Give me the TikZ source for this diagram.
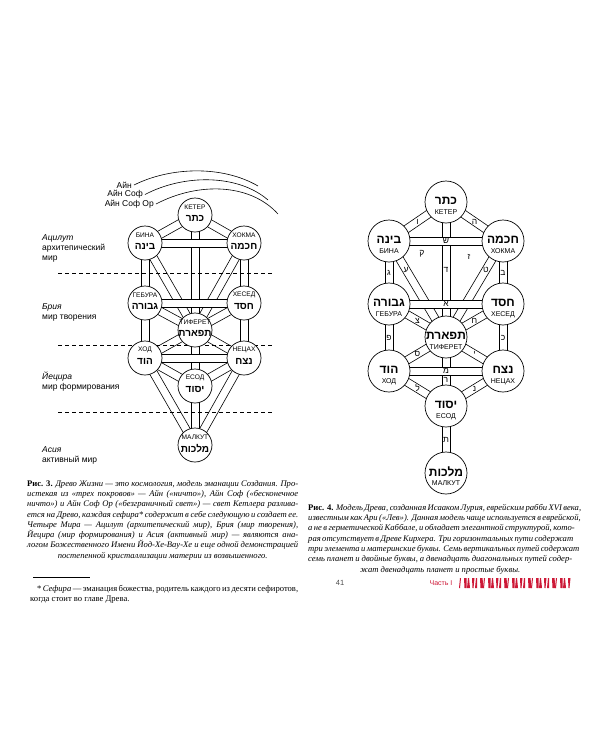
\documentclass[tikz,border=0pt]{standalone}
\usepackage{fontspec}
\setmainfont{Liberation Serif}
\setsansfont{Liberation Sans}
\newfontfamily\hebfont[Script=Hebrew]{Liberation Sans}
\TeXXeTstate=1
\usetikzlibrary{backgrounds,calc}
\definecolor{partred}{RGB}{205,25,55}
\newcommand\heb[1]{{\hebfont\beginR#1\endR}}
\newlength\capw
\newcommand\capline[1]{\hbox to\capw{#1}}
% one path of the tree: a white band with two rules
\newcommand\chan[2]{%
  \fill[white] ($(#1.center)!3.7pt!90:(#2.center)$) -- ($(#2.center)!3.7pt!-90:(#1.center)$)
    -- ($(#2.center)!3.7pt!90:(#1.center)$) -- ($(#1.center)!3.7pt!-90:(#2.center)$) -- cycle;
  \draw[chanedge] ($(#1.center)!4pt!90:(#2.center)$) -- ($(#2.center)!4pt!-90:(#1.center)$);
  \draw[chanedge] ($(#1.center)!4pt!-90:(#2.center)$) -- ($(#2.center)!4pt!90:(#1.center)$);}
\begin{document}
\begin{tikzpicture}[x=1pt,y=-1pt,every node/.style={font=\sffamily},
  chanedge/.style={line width=.6pt},
  sefL/.style={circle,draw,line width=.7pt,fill=white,minimum size=34pt,inner sep=0pt},
  sefR/.style={circle,draw,line width=.7pt,fill=white,minimum size=42pt,inner sep=0pt},
  ruL/.style={font=\sffamily\fontsize{6.6}{7}\selectfont,inner sep=0pt},
  heL/.style={font=\bfseries\fontsize{10}{11}\selectfont,inner sep=0pt},
  ruR/.style={font=\sffamily\fontsize{7}{7}\selectfont,inner sep=0pt},
  heR/.style={font=\bfseries\fontsize{12}{13}\selectfont,inner sep=0pt},
  letter/.style={font=\fontsize{8.5}{9}\selectfont,inner sep=0pt},
  world/.style={font=\sffamily\fontsize{8.5}{10}\selectfont,align=left,anchor=west,inner sep=0pt},
  sky/.style={font=\sffamily\fontsize{8.5}{10}\selectfont,anchor=east,inner sep=0pt},
  border/.style={dashed,dash pattern=on 4pt off 3pt,line width=.6pt},
  capt/.style={font=\rmfamily\itshape\fontsize{8.6}{10.3}\selectfont,inner sep=0pt,anchor=north west},
  foot/.style={font=\rmfamily\fontsize{8.6}{10.3}\selectfont,inner sep=0pt,anchor=north west}]
\useasboundingbox (0,0) rectangle (600,750);

% Fig. 3: tree with the four worlds
\node[sefL] (keterL) at (195,215) {};
\node[ruL] (keterLru) at ([yshift=8pt]keterL.center) {КЕТЕР};
\node[heL] (keterLhe) at ([yshift=-3.5pt]keterL.center) {\heb{כתר}};
\node[sefL] (binaL) at (145,243) {};
\node[ruL] (binaLru) at ([yshift=8pt]binaL.center) {БИНА};
\node[heL] (binaLhe) at ([yshift=-3.5pt]binaL.center) {\heb{בינה}};
\node[sefL] (hokhmaL) at (244,243) {};
\node[ruL] (hokhmaLru) at ([yshift=8pt]hokhmaL.center) {ХОКМА};
\node[heL] (hokhmaLhe) at ([yshift=-3.5pt]hokhmaL.center) {\heb{חכמה}};
\node[sefL] (geburaL) at (145,303) {};
\node[ruL] (geburaLru) at ([yshift=8pt]geburaL.center) {ГЕБУРА};
\node[heL] (geburaLhe) at ([yshift=-3.5pt]geburaL.center) {\heb{גבורה}};
\node[sefL] (hesedL) at (244,303) {};
\node[ruL] (hesedLru) at ([yshift=8pt]hesedL.center) {ХЕСЕД};
\node[heL] (hesedLhe) at ([yshift=-3.5pt]hesedL.center) {\heb{חסד}};
\node[sefL] (tiferetL) at (195,330) {};
\node[ruL] (tiferetLru) at ([yshift=8pt]tiferetL.center) {ТИФЕРЕТ};
\node[heL] (tiferetLhe) at ([yshift=-3.5pt]tiferetL.center) {\heb{תפארת}};
\node[sefL] (hodL) at (145,358) {};
\node[ruL] (hodLru) at ([yshift=8pt]hodL.center) {ХОД};
\node[heL] (hodLhe) at ([yshift=-3.5pt]hodL.center) {\heb{הוד}};
\node[sefL] (netzahL) at (244,358) {};
\node[ruL] (netzahLru) at ([yshift=8pt]netzahL.center) {НЕЦАХ};
\node[heL] (netzahLhe) at ([yshift=-3.5pt]netzahL.center) {\heb{נצח}};
\node[sefL] (yesodL) at (195,386) {};
\node[ruL] (yesodLru) at ([yshift=8pt]yesodL.center) {ЕСОД};
\node[heL] (yesodLhe) at ([yshift=-3.5pt]yesodL.center) {\heb{יסוד}};
\node[sefL] (malkutL) at (195,445) {};
\node[ruL] (malkutLru) at ([yshift=8pt]malkutL.center) {МАЛКУТ};
\node[heL] (malkutLhe) at ([yshift=-3.5pt]malkutL.center) {\heb{מלכות}};

% Fig. 4: Luria's tree
\node[sefR] (keterR) at (446,202) {};
\node[heR] (keterRhe) at ([yshift=1.5pt]keterR.center) {\heb{כתר}};
\node[ruR] (keterRru) at ([yshift=-10.5pt]keterR.center) {КЕТЕР};
\node[sefR] (binaR) at (389,241) {};
\node[heR] (binaRhe) at ([yshift=1.5pt]binaR.center) {\heb{בינה}};
\node[ruR] (binaRru) at ([yshift=-10.5pt]binaR.center) {БИНА};
\node[sefR] (hokhmaR) at (503,241) {};
\node[heR] (hokhmaRhe) at ([yshift=1.5pt]hokhmaR.center) {\heb{חכמה}};
\node[ruR] (hokhmaRru) at ([yshift=-10.5pt]hokhmaR.center) {ХОКМА};
\node[sefR] (geburaR) at (389,304) {};
\node[heR] (geburaRhe) at ([yshift=1.5pt]geburaR.center) {\heb{גבורה}};
\node[ruR] (geburaRru) at ([yshift=-10.5pt]geburaR.center) {ГЕБУРА};
\node[sefR] (hesedR) at (503,304) {};
\node[heR] (hesedRhe) at ([yshift=1.5pt]hesedR.center) {\heb{חסד}};
\node[ruR] (hesedRru) at ([yshift=-10.5pt]hesedR.center) {ХЕСЕД};
\node[sefR] (tiferetR) at (446,337) {};
\node[heR] (tiferetRhe) at ([yshift=1.5pt]tiferetR.center) {\heb{תפארת}};
\node[ruR] (tiferetRru) at ([yshift=-10.5pt]tiferetR.center) {ТИФЕРЕТ};
\node[sefR] (hodR) at (389,371) {};
\node[heR] (hodRhe) at ([yshift=1.5pt]hodR.center) {\heb{הוד}};
\node[ruR] (hodRru) at ([yshift=-10.5pt]hodR.center) {ХОД};
\node[sefR] (netzahR) at (503,371) {};
\node[heR] (netzahRhe) at ([yshift=1.5pt]netzahR.center) {\heb{נצח}};
\node[ruR] (netzahRru) at ([yshift=-10.5pt]netzahR.center) {НЕЦАХ};
\node[sefR] (yesodR) at (446,406) {};
\node[heR] (yesodRhe) at ([yshift=1.5pt]yesodR.center) {\heb{יסוד}};
\node[ruR] (yesodRru) at ([yshift=-10.5pt]yesodR.center) {ЕСОД};
\node[sefR] (malkutR) at (446,473) {};
\node[heR] (malkutRhe) at ([yshift=1.5pt]malkutR.center) {\heb{מלכות}};
\node[ruR] (malkutRru) at ([yshift=-10.5pt]malkutR.center) {МАЛКУТ};

\begin{scope}[on background layer]
  % paths, diagonals and verticals under the horizontals
  \chan{keterL}{binaL}
  \chan{keterL}{hokhmaL}
  \chan{binaL}{tiferetL}
  \chan{hokhmaL}{tiferetL}
  \chan{geburaL}{tiferetL}
  \chan{hesedL}{tiferetL}
  \chan{tiferetL}{hodL}
  \chan{tiferetL}{netzahL}
  \chan{hodL}{yesodL}
  \chan{netzahL}{yesodL}
  \chan{hodL}{malkutL}
  \chan{netzahL}{malkutL}
  \chan{keterL}{tiferetL}
  \chan{binaL}{geburaL}
  \chan{hokhmaL}{hesedL}
  \chan{geburaL}{hodL}
  \chan{hesedL}{netzahL}
  \chan{tiferetL}{yesodL}
  \chan{yesodL}{malkutL}
  \chan{binaL}{hokhmaL}
  \chan{geburaL}{hesedL}
  \chan{hodL}{netzahL}
  \draw[border] (58,273)--(272,273);
  \draw[border] (58,345)--(272,345);
  \draw[border] (58,412)--(272,412);
  \chan{keterR}{binaR}
  \chan{keterR}{hokhmaR}
  \chan{binaR}{tiferetR}
  \chan{hokhmaR}{tiferetR}
  \chan{geburaR}{tiferetR}
  \chan{hesedR}{tiferetR}
  \chan{tiferetR}{hodR}
  \chan{tiferetR}{netzahR}
  \chan{hodR}{yesodR}
  \chan{netzahR}{yesodR}
  \chan{keterR}{tiferetR}
  \chan{binaR}{geburaR}
  \chan{hokhmaR}{hesedR}
  \chan{geburaR}{hodR}
  \chan{hesedR}{netzahR}
  \chan{tiferetR}{yesodR}
  \chan{yesodR}{malkutR}
  \chan{binaR}{hokhmaR}
  \chan{geburaR}{hesedR}
  \chan{hodR}{netzahR}
\end{scope}

% letters of the paths
\node[letter] (vav) at (417.5,221.5) {\heb{ו}};
\node[letter] (he) at (474.5,221.5) {\heb{ה}};
\node[letter] (shin) at (446,241) {\heb{ש}};
\node[letter] (qof) at (422,254) {\heb{ק}};
\node[letter] (zayin) at (469,257) {\heb{ז}};
\node[letter] (ayin) at (406,270) {\heb{ע}};
\node[letter] (dalet) at (446,270) {\heb{ד}};
\node[letter] (tet) at (486,270) {\heb{ט}};
\node[letter] (gimel) at (389,272.5) {\heb{ג}};
\node[letter] (bet) at (503,272.5) {\heb{ב}};
\node[letter] (alef) at (446,304) {\heb{א}};
\node[letter] (tsadi) at (417.5,320.5) {\heb{צ}};
\node[letter] (het) at (474.5,320.5) {\heb{ח}};
\node[letter] (pe) at (389,337.5) {\heb{פ}};
\node[letter] (kaf) at (503,337.5) {\heb{כ}};
\node[letter] (samekh) at (417.5,354) {\heb{ס}};
\node[letter] (yod) at (474.5,354) {\heb{י}};
\node[letter] (mem) at (446,371) {\heb{מ}};
\node[letter] (resh) at (446,380) {\heb{ר}};
\node[letter] (lamed) at (417.5,388.5) {\heb{ל}};
\node[letter] (nun) at (474.5,388.5) {\heb{נ}};
\node[letter] (tav) at (446,440) {\heb{ת}};

% the three veils
\node[sky] (ain) at (132,185) {Айн};
\node[sky] (ainsof) at (143,194.5) {Айн Соф};
\node[sky] (ainsofor) at (154,204) {Айн Соф Ор};
\coordinate (ainE) at (258,186);
\coordinate (ainsofE) at (268,200);
\coordinate (ainsoforE) at (278,214);
\draw[line width=.6pt] ([xshift=2pt]ain.east) .. controls (170,167) and (222,165) .. (ainE);
\draw[line width=.6pt] ([xshift=2pt]ainsof.east) .. controls (184,174) and (238,174) .. (ainsofE);
\draw[line width=.6pt] ([xshift=2pt]ainsofor.east) .. controls (198,182) and (250,183) .. (ainsoforE);

% worlds
\node[world] (atzilut) at (42,248) {\textit{Ацилут}\\архитепический\\мир};
\node[world] (beriah) at (42,312.8) {\textit{Брия}\\мир творения};
\node[world] (yetzirah) at (42,381.8) {\textit{Йецира}\\мир формирования};
\node[world] (assiah) at (42,455.8) {\textit{Асия}\\активный мир};

% captions
\node[capt] (cap3) at (27,480) {\setlength\capw{271pt}\vbox{%
\capline{{\upshape\bfseries Рис. 3.} Древо Жизни — это космология, модель эманации Создания. Про-}
\capline{истекая из «трех покровов» — Айн («ничто»), Айн Соф («бесконечное}
\capline{ничто») и Айн Соф Ор («безграничный свет») — свет Кетлера разлива-}
\capline{ется на Древо, каждая сефира* содержит в себе следующую и создает ее.}
\capline{Четыре Мира — Ацилут (архитепический мир), Брия (мир творения),}
\capline{Йецира (мир формирования) и Асия (активный мир) — являются ана-}
\capline{логом Божественного Имени Йод-Хе-Вау-Хе и еще одной демонстрацией}
\capline{\hfil постепенной кристаллизации материи из возвышенного.\hfil}}};
\draw[line width=.5pt] (33,577)--(90,577);
\node[foot] (note) at (30,585) {\setlength\capw{263pt}\vbox{%
\capline{\hskip7pt * \textit{Сефира} — эманация божества, родитель каждого из десяти сефиротов,}
\hbox{когда стоит во главе Древа.}}};
\node[capt] (cap4) at (308,504) {\setlength\capw{264pt}\vbox{%
\capline{{\upshape\bfseries Рис. 4.} Модель Древа, созданная Исааком Лурия, еврейским рабби XVI века,}
\capline{известным как Ари («Лев»). Данная модель чаще используется в еврейской,}
\capline{а не в герметической Каббале, и обладает элегантной структурой, кото-}
\capline{рая отсутствует в Древе Кирхера. Три горизонтальных пути содержат}
\capline{три элемента и материнские буквы. Семь вертикальных путей содержат}
\capline{семь планет и двойные буквы, а двенадцать диагональных путей содер-}
\capline{\hfil жат двенадцать планет и простые буквы.\hfil}}};

% running foot
\node[font=\sffamily\fontsize{7.5}{8}\selectfont,text=black!70] (folio) at (340,583) {41};
\node[font=\sffamily\fontsize{7}{8}\selectfont,text=partred] (part) at (441,583) {Часть I};
\foreach \i in {0,...,27}
  \fill[partred] ({460+4*\i},578) -- ++({1+1.5*mod(\i,2)},0) -- ++({mod(\i,3)-1},10)
    -- ++({-1-mod(7*\i,3)},0) -- cycle;
\end{tikzpicture}
\end{document}
